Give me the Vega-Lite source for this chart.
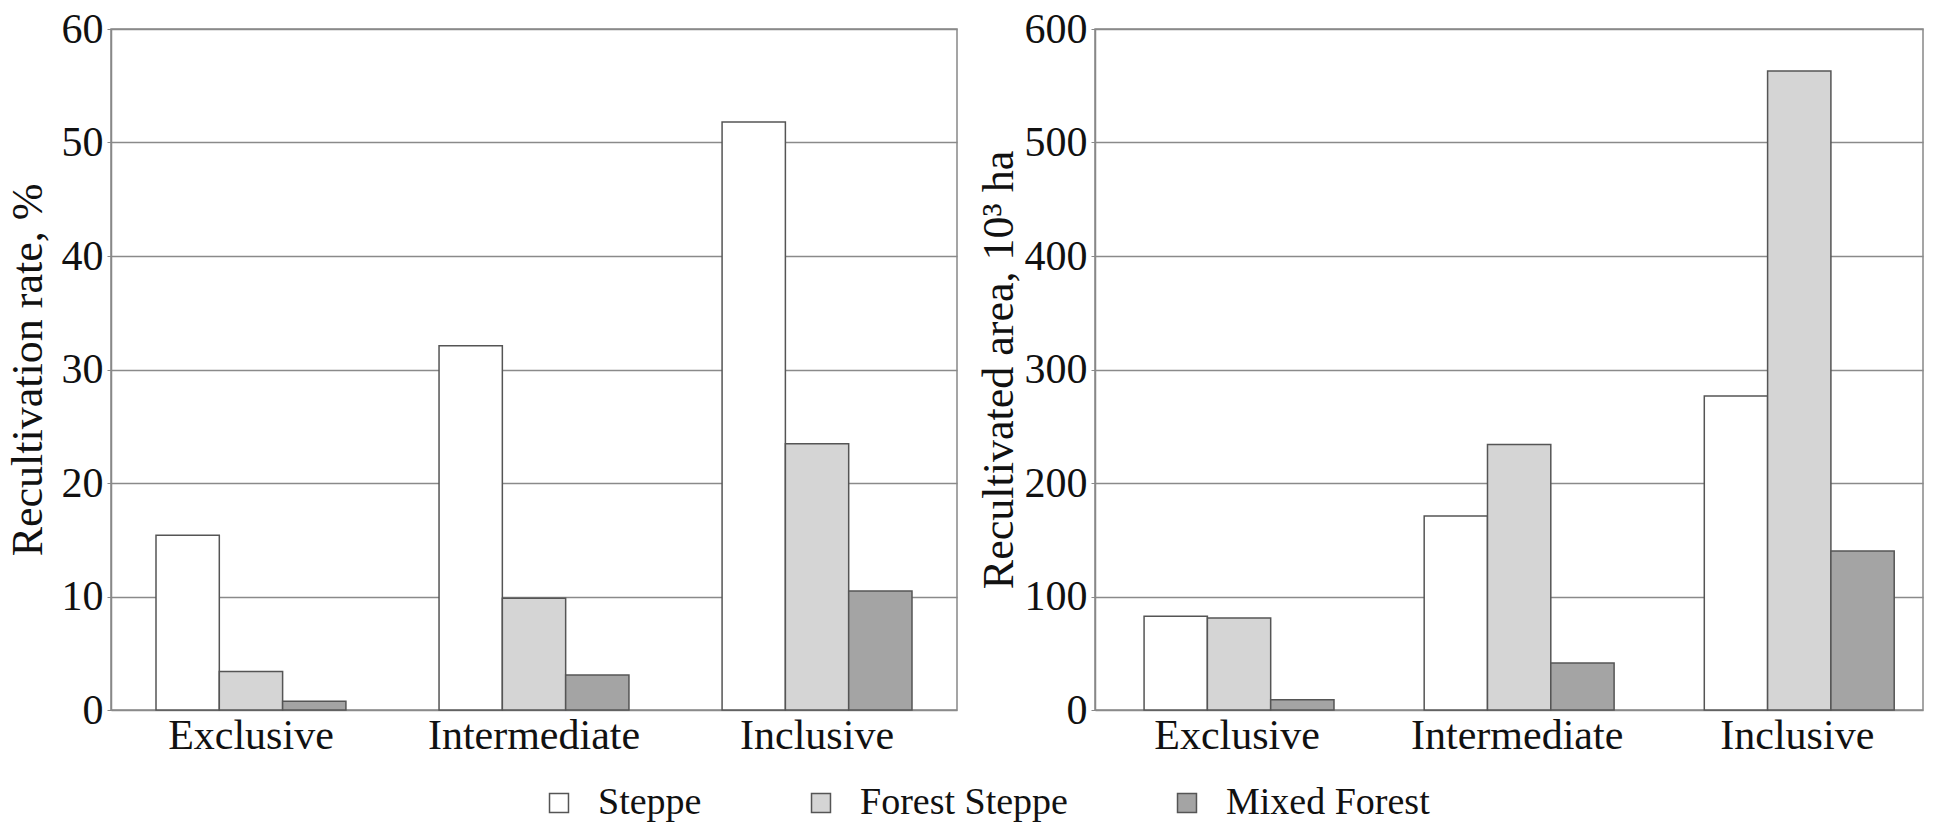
{
  "$schema": "https://vega.github.io/schema/vega-lite/v6.json",
  "padding": {"left": 5, "top": 7, "right": 2, "bottom": 5},
  "background": "white",
  "spacing": 18,
  "config": {
    "font": "Liberation Serif",
    "view": {"stroke": "#888888", "strokeWidth": 1.5},
    "axis": {
      "labelFont": "Liberation Serif",
      "titleFont": "Liberation Serif",
      "labelColor": "#111111",
      "titleColor": "#111111",
      "titleFontWeight": "normal",
      "labelLimit": 0,
      "titleLimit": 0,
      "gridColor": "#8a8a8a",
      "gridWidth": 1.5,
      "gridOpacity": 1,
      "domainColor": "#888888",
      "domainWidth": 1.5,
      "tickColor": "#888888"
    },
    "legend": {
      "labelFont": "Liberation Serif",
      "labelColor": "#111111",
      "labelLimit": 0
    }
  },
  "data": {
    "values": [
      {"zone": "Exclusive", "type": "Steppe", "rate": 15.4, "area": 82.5},
      {"zone": "Exclusive", "type": "Forest Steppe", "rate": 3.4, "area": 81},
      {"zone": "Exclusive", "type": "Mixed Forest", "rate": 0.77, "area": 9},
      {"zone": "Intermediate", "type": "Steppe", "rate": 32.1, "area": 171},
      {"zone": "Intermediate", "type": "Forest Steppe", "rate": 9.84, "area": 234},
      {"zone": "Intermediate", "type": "Mixed Forest", "rate": 3.08, "area": 41.4},
      {"zone": "Inclusive", "type": "Steppe", "rate": 51.8, "area": 276.7},
      {"zone": "Inclusive", "type": "Forest Steppe", "rate": 23.46, "area": 563},
      {"zone": "Inclusive", "type": "Mixed Forest", "rate": 10.48, "area": 140}
    ]
  },
  "resolve": {"scale": {"y": "independent"}},
  "hconcat": [
    {
      "width": 846,
      "height": 681,
      "mark": {"type": "bar", "stroke": "#555555", "strokeWidth": 1.5},
      "encoding": {
        "x": {
          "field": "zone", "type": "nominal", "sort": ["Exclusive", "Intermediate", "Inclusive"],
          "scale": {"paddingInner": 0.329, "paddingOuter": 0.159},
          "axis": {"title": null, "labelAngle": 0, "labelFontSize": 42, "ticks": false, "labelPadding": 5, "domain": false}
        },
        "xOffset": {"field": "type", "type": "nominal", "sort": ["Steppe", "Forest Steppe", "Mixed Forest"], "scale": {"padding": 0}},
        "y": {
          "field": "rate", "type": "quantitative",
          "scale": {"domain": [0, 60], "nice": false},
          "axis": {"title": "Recultivation rate, %", "values": [0, 10, 20, 30, 40, 50, 60], "labelFontSize": 42, "titleFontSize": 44, "tickSize": 4, "labelPadding": 4, "titlePadding": 11}
        },
        "fill": {
          "field": "type", "type": "nominal",
          "scale": {"domain": ["Steppe", "Forest Steppe", "Mixed Forest"], "range": ["#ffffff", "#d5d5d5", "#a4a4a4"]},
          "legend": {"title": null, "orient": "none", "legendX": 429, "legendY": 755, "direction": "horizontal", "symbolType": "square", "symbolSize": 360, "symbolStrokeColor": "#666666", "symbolStrokeWidth": 1.5, "labelFontSize": 38, "labelOffset": 20, "columnPadding": 100}
        }
      }
    },
    {
      "width": 828,
      "height": 681,
      "mark": {"type": "bar", "stroke": "#555555", "strokeWidth": 1.5},
      "encoding": {
        "x": {
          "field": "zone", "type": "nominal", "sort": ["Exclusive", "Intermediate", "Inclusive"],
          "scale": {"paddingInner": 0.336, "paddingOuter": 0.146, "align": 0.6},
          "axis": {"title": null, "labelAngle": 0, "labelFontSize": 42, "ticks": false, "labelPadding": 5, "domain": false}
        },
        "xOffset": {"field": "type", "type": "nominal", "sort": ["Steppe", "Forest Steppe", "Mixed Forest"], "scale": {"padding": 0}},
        "y": {
          "field": "area", "type": "quantitative",
          "scale": {"domain": [0, 600], "nice": false},
          "axis": {"title": "Recultivated area, 10³ ha", "values": [0, 100, 200, 300, 400, 500, 600], "labelFontSize": 42, "titleFontSize": 44, "tickSize": 4, "labelPadding": 4, "titlePadding": 3}
        },
        "fill": {"field": "type", "type": "nominal"}
      }
    }
  ]
}
